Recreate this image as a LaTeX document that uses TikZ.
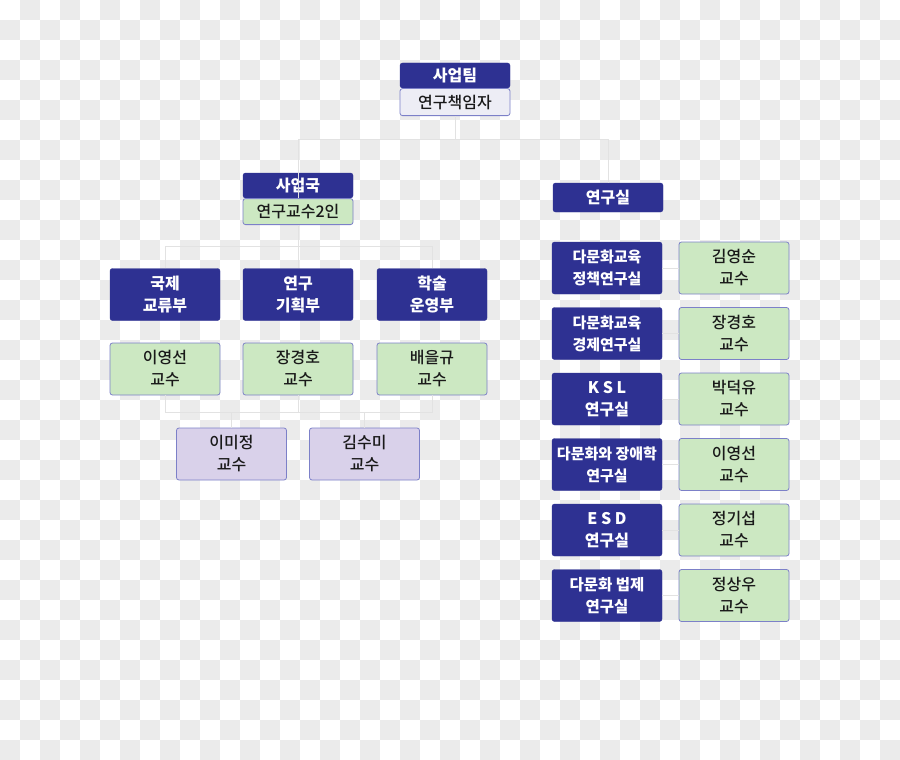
\documentclass[tikz,border=0pt]{standalone}
\usepackage{fontspec}
\setmainfont{Noto Sans CJK KR}
\newfontfamily\krmed{Noto Sans CJK KR}[UprightFont=* Medium]
\usetikzlibrary{positioning}

\definecolor{navy}{HTML}{2E3192}
\definecolor{leaf}{HTML}{CCE8C2}
\definecolor{lilac}{HTML}{D9D1EA}
\definecolor{rim}{HTML}{7C80C8}
\definecolor{pale}{HTML}{EDEDF5}
\definecolor{chk}{HTML}{EBEBEB}
\definecolor{wire}{HTML}{E2E2E2}

\begin{document}
\begin{tikzpicture}[x=1pt, y=-1pt,
      box/.style={rounded corners=2.5pt, align=center, inner sep=0pt,
        minimum width=110pt, minimum height=52pt},
      dark/.style={box, fill=navy, draw=navy, text=white,
        font=\fontsize{16}{22}\selectfont\bfseries},
      prof/.style={box, fill=leaf, draw=rim, line width=0.8pt, text=black!90,
        font=\fontsize{16}{22}\selectfont\krmed},
      staff/.style={prof, fill=lilac},
      tag/.style={dark, minimum height=25pt},
      sub/.style={prof, minimum height=26pt},
      wire/.style={draw=wire, line width=1pt}
    ]
    % transparent-style background
    \fill[white] (0,0) rectangle (900,760);
    \foreach \i in {0,...,44} {
      \foreach \j in {0,...,37} {
        \pgfmathtruncatemacro{\odd}{mod(\i+\j,2)}
        \ifnum\odd=1 \fill[chk] (20*\i,20*\j) rectangle ++(20,20); \fi
      }}
    \useasboundingbox (0,0) rectangle (900,760);

    % head of the team
    \node[tag] (lead) at (455,75.5) {사업팀};
    \node[sub, fill=pale, minimum height=27pt, below=0pt of lead] (leadsub) {연구책임자};

    % left branch
    \node[tag] (office) at (298,185.5) {사업국};
    \node[sub, below=0pt of office] (officesub) {연구교수2인};
    \node[dark] (d1) at (165,294.5) {국제\\교류부};
    \node[dark] (d2) at (298,294.5) {연구\\기획부};
    \node[dark] (d3) at (432,294.5) {학술\\운영부};
    \node[prof] (g1) at (165,369) {이영선\\교수};
    \node[prof] (g2) at (298,369) {장경호\\교수};
    \node[prof] (g3) at (432,369) {배을규\\교수};
    \node[staff] (p1) at (231.5,454) {이미정\\교수};
    \node[staff] (p2) at (364.5,454) {김수미\\교수};

    % right branch
    \node[dark, minimum height=29pt] (lab) at (608,197.5) {연구실};
    \foreach \name/\who/\sz [count=\k] in {%
        다문화교육\\정책연구실/김영순/15,
        다문화교육\\경제연구실/장경호/15,
        K S L\\연구실/박덕유/16,
        다문화와 장애학\\연구실/이영선/15,
        E S D\\연구실/정기섭/16,
        다문화 법제\\연구실/정상우/15.5} {
      \node[dark, font=\fontsize{\sz}{22}\selectfont\bfseries] (r\k) at (607,202.5+65.5*\k) {\name};
      \node[prof] (q\k) at (734,202.5+65.5*\k) {\who\\교수};
      \draw[wire] (r\k.east) -- (q\k.west);
    }

    % connectors
    \coordinate (bus1) at (0,139);
    \coordinate (bus2) at (0,246);
    \coordinate (bus3) at (0,412);
    \draw[wire] (leadsub.south) -- (leadsub.south |- bus1);
    \draw[wire] (officesub.north) -- (officesub.north |- bus1) -- (lab.north |- bus1) -- (lab.north);
    \draw[wire] (officesub.south) -- (d2.north);
    \draw[wire] (d1.north) -- (d1.north |- bus2) -- (d3.north |- bus2) -- (d3.north);
    \draw[wire] (g1.south) -- (g1.south |- bus3) -- (g3.south |- bus3) -- (g3.south);
    \draw[wire] (g2.south) -- (g2.south |- bus3);
    \draw[wire] (p1.north) -- (p1.north |- bus3);
    \draw[wire] (p2.north) -- (p2.north |- bus3);
  \end{tikzpicture}
\end{document}
